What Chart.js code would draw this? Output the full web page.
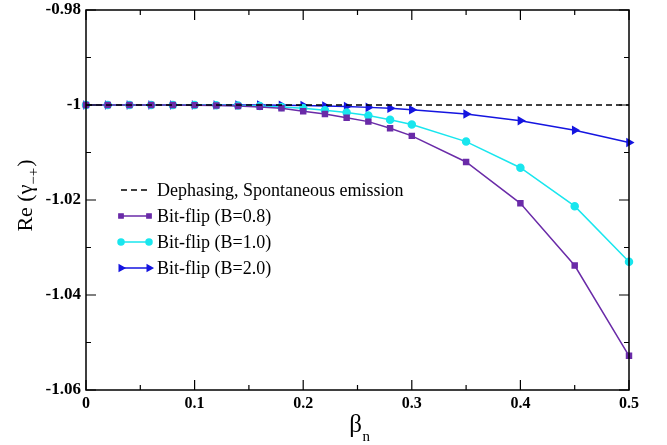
<!DOCTYPE html>
<html>
<head>
<meta charset="utf-8">
<script src="https://cdn.jsdelivr.net/npm/chart.js@4/dist/chart.umd.min.js"></script>
<style>
  html, body { margin: 0; background: #fff; }
</style>
</head>
<body>
<canvas id="chart" width="667" height="445"></canvas>
<script>
const betaN = [0, 0.02, 0.04, 0.06, 0.08, 0.1, 0.12, 0.14, 0.16, 0.18, 0.2, 0.22, 0.24, 0.26, 0.28, 0.3, 0.35, 0.4, 0.45, 0.5];
const dephasing = [-1, -1, -1, -1, -1, -1, -1, -1, -1, -1, -1, -1, -1, -1, -1, -1, -1, -1, -1, -1];
const bitFlip08 = [-1, -1, -1, -1, -1, -1.00003, -1.0001, -1.0002, -1.0004, -1.0007, -1.0013, -1.0019, -1.0027, -1.0035, -1.0049, -1.0065, -1.012, -1.0207, -1.0338, -1.0528];
const bitFlip10 = [-1, -1, -1, -1, -1, -1, -1.00005, -1.0001, -1.0002, -1.0004, -1.0007, -1.0011, -1.0016, -1.0022, -1.0031, -1.0041, -1.0077, -1.0132, -1.0213, -1.033];
const bitFlip20 = [-1, -1, -1, -1, -1, -1, -1, -1, -1, -1.00005, -1.0001, -1.0002, -1.0003, -1.0005, -1.0007, -1.001, -1.0019, -1.0033, -1.0053, -1.0079];

const xTicks = [0, 0.1, 0.2, 0.3, 0.4, 0.5];
const xTickLabels = ["0", "0.1", "0.2", "0.3", "0.4", "0.5"];
const xMinorTicks = [0.05, 0.15, 0.25, 0.35, 0.45];
const yTicks = [-1.06, -1.04, -1.02, -1, -0.98];
const yTickLabels = ["-1.06", "-1.04", "-1.02", "-1", "-0.98"];
const yMinorTicks = [-1.05, -1.03, -1.01, -0.99];

const seriesNames = ["Dephasing, Spontaneous emission", "Bit-flip (B=0.8)", "Bit-flip (B=1.0)", "Bit-flip (B=2.0)"];

const SERIF = "'Liberation Serif', 'DejaVu Serif', serif";

function pts(ys) {
  return betaN.map((x, i) => ({ x: x, y: ys[i] }));
}

// box frame with inward ticks on all four sides
const frame = {
  id: "frame",
  afterDraw(chart) {
    const { ctx, chartArea: a, scales } = chart;
    ctx.save();
    ctx.strokeStyle = "#000";
    ctx.lineWidth = 1.5;
    ctx.strokeRect(a.left, a.top, a.right - a.left, a.bottom - a.top);
    ctx.lineWidth = 1.2;
    ctx.beginPath();
    const tickX = (v, len) => {
      const px = scales.x.getPixelForValue(v);
      ctx.moveTo(px, a.bottom); ctx.lineTo(px, a.bottom - len);
      ctx.moveTo(px, a.top); ctx.lineTo(px, a.top + len);
    };
    const tickY = (v, len) => {
      const py = scales.y.getPixelForValue(v);
      ctx.moveTo(a.left, py); ctx.lineTo(a.left + len, py);
      ctx.moveTo(a.right, py); ctx.lineTo(a.right - len, py);
    };
    xTicks.forEach(v => tickX(v, 10));
    xMinorTicks.forEach(v => tickX(v, 5));
    yTicks.forEach(v => tickY(v, 10));
    yMinorTicks.forEach(v => tickY(v, 5));
    ctx.stroke();

    // axis titles with subscripts
    ctx.fillStyle = "#000";
    ctx.textBaseline = "alphabetic";
    const cx = (a.left + a.right) / 2;
    ctx.font = "25px " + SERIF;
    ctx.textAlign = "center";
    ctx.fillText("\u03B2", cx - 2, 432);
    ctx.font = "15px " + SERIF;
    ctx.textAlign = "left";
    ctx.fillText("n", cx + 5, 441);

    ctx.translate(32, 196);
    ctx.rotate(-Math.PI / 2);
    ctx.font = "22px " + SERIF;
    ctx.textAlign = "left";
    const main = "Re (\u03B3";
    const w1 = ctx.measureText(main).width;
    ctx.font = "15px " + SERIF;
    const sub = "\u2212+";
    const w2 = ctx.measureText(sub).width;
    ctx.font = "22px " + SERIF;
    const w3 = ctx.measureText(")").width;
    const start = -(w1 + w2 + w3) / 2;
    ctx.fillText(main, start, 0);
    ctx.font = "15px " + SERIF;
    ctx.fillText(sub, start + w1, 6);
    ctx.font = "22px " + SERIF;
    ctx.fillText(")", start + w1 + w2 + 1, 0);
    ctx.restore();
  }
};

// legend: short line with marker at both ends
const legendBox = {
  id: "legendBox",
  afterDraw(chart) {
    const { ctx } = chart;
    ctx.save();
    const x0 = 121, x1 = 149, top = 190, gap = 26;
    chart.data.datasets.forEach((ds, i) => {
      const y = top + i * gap;
      ctx.strokeStyle = ds.borderColor;
      ctx.lineWidth = 1.5;
      ctx.setLineDash(ds.borderDash || []);
      ctx.beginPath();
      ctx.moveTo(x0, y); ctx.lineTo(x1, y);
      ctx.stroke();
      ctx.setLineDash([]);
      if (ds.pointRadius > 0) {
        ctx.fillStyle = ds.backgroundColor;
        ctx.strokeStyle = ds.borderColor;
        [x0, x1].forEach(px => {
          Chart.helpers.drawPoint(ctx, {
            pointStyle: ds.pointStyle,
            rotation: ds.pointRotation || 0,
            radius: ds.pointRadius - 0.5,
            borderWidth: 1
          }, px, y);
        });
      }
      ctx.fillStyle = "#000";
      ctx.font = "18px " + SERIF;
      ctx.textAlign = "left";
      ctx.textBaseline = "middle";
      ctx.fillText(ds.label, 157, y + 1);
    });
    ctx.restore();
  }
};

new Chart(document.getElementById("chart"), {
  type: "line",
  data: {
    datasets: [
      {
        label: seriesNames[0],
        data: pts(dephasing),
        borderColor: "#000",
        backgroundColor: "#000",
        borderWidth: 1.5,
        borderDash: [6, 4],
        pointRadius: 0
      },
      {
        label: seriesNames[1],
        data: pts(bitFlip08),
        borderColor: "#6a2ba8",
        backgroundColor: "#6a2ba8",
        borderWidth: 1.5,
        pointStyle: "rect",
        pointRadius: 3.5
      },
      {
        label: seriesNames[2],
        data: pts(bitFlip10),
        borderColor: "#19e6ee",
        backgroundColor: "#19e6ee",
        borderWidth: 1.5,
        pointStyle: "circle",
        pointRadius: 3.5
      },
      {
        label: seriesNames[3],
        data: pts(bitFlip20),
        borderColor: "#1515e0",
        backgroundColor: "#1515e0",
        borderWidth: 1.5,
        pointStyle: "triangle",
        pointRotation: 90,
        pointRadius: 4
      }
    ]
  },
  options: {
    responsive: false,
    animation: false,
    devicePixelRatio: 1,
    clip: false,
    layout: { padding: { top: 10, right: 38, left: 0, bottom: 0 } },
    plugins: {
      legend: { display: false },
      tooltip: { enabled: false }
    },
    elements: { line: { tension: 0 }, point: { borderWidth: 1 } },
    scales: {
      x: {
        type: "linear",
        min: 0,
        max: 0.5,
        grid: { display: false, drawTicks: false },
        border: { display: false },
        afterBuildTicks: s => { s.ticks = xTicks.map(v => ({ value: v })); },
        afterFit: s => { s.height = 55; s.paddingLeft = 0; s.paddingRight = 0; },
        ticks: {
          color: "#000",
          padding: 4,
          maxRotation: 0,
          font: { family: SERIF, size: 16, weight: "bold" },
          callback: (v, i) => xTickLabels[i]
        }
      },
      y: {
        min: -1.06,
        max: -0.98,
        grid: { display: false, drawTicks: false },
        border: { display: false },
        afterBuildTicks: s => { s.ticks = yTicks.map(v => ({ value: v })); },
        afterFit: s => { s.width = 86; s.paddingTop = 0; s.paddingBottom = 0; },
        ticks: {
          color: "#000",
          padding: 5,
          font: { family: SERIF, size: 17, weight: "bold" },
          callback: (v, i) => yTickLabels[i]
        }
      }
    }
  },
  plugins: [frame, legendBox]
});
</script>
</body>
</html>
